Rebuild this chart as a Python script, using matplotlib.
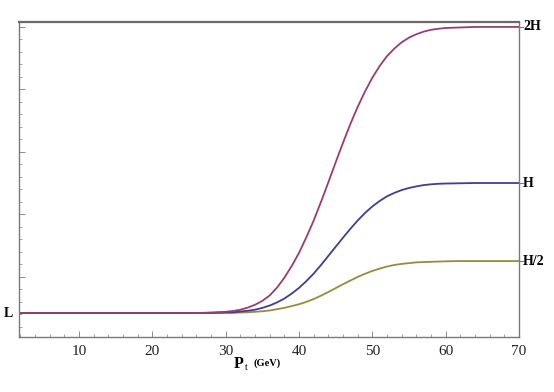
import matplotlib
matplotlib.use("Agg")
import matplotlib.pyplot as plt
from matplotlib.ticker import MultipleLocator, NullFormatter

# --- values (y: L=1, H/2=3, H=6, 2H=12) ---
pt = [2, 20, 26, 28, 30, 31, 32, 33, 34, 35, 36, 37, 38, 39, 40, 41, 42, 43, 44,
      45, 46, 47, 48, 49, 50, 51, 52, 53, 54, 55, 56, 57, 58, 59, 60, 62, 64, 66, 70]

y_2h = [1.0, 1.0, 1.0, 1.02, 1.05, 1.08, 1.13, 1.21, 1.32, 1.47, 1.68, 1.98, 2.36, 2.81,
        3.32, 3.92, 4.56, 5.28, 6.03, 6.8, 7.55, 8.27, 8.93, 9.52, 10.05, 10.5, 10.88,
        11.17, 11.41, 11.59, 11.72, 11.82, 11.89, 11.93, 11.96, 11.98, 12.0, 12.0, 12.0]

y_h = [1.0, 1.0, 1.0, 1.01, 1.02, 1.03, 1.06, 1.09, 1.13, 1.2, 1.29, 1.41, 1.56, 1.75,
       1.97, 2.23, 2.52, 2.85, 3.2, 3.55, 3.9, 4.24, 4.56, 4.85, 5.1, 5.31, 5.49, 5.62,
       5.73, 5.81, 5.87, 5.92, 5.95, 5.97, 5.98, 5.99, 6.0, 6.0, 6.0]

y_h2 = [1.0, 1.0, 1.0, 1.0, 1.01, 1.01, 1.02, 1.03, 1.05, 1.07, 1.1, 1.15, 1.2, 1.27,
        1.34, 1.43, 1.54, 1.67, 1.81, 1.96, 2.11, 2.25, 2.39, 2.51, 2.62, 2.71, 2.79,
        2.85, 2.89, 2.92, 2.95, 2.96, 2.97, 2.98, 2.99, 3.0, 3.0, 3.0, 3.0]

level_names = ["L", "H/2", "H", "2H"]
level_values = [1, 3, 6, 12]

x_ticks = [10, 20, 30, 40, 50, 60, 70]

COL_2H = "#993d71"
COL_H = "#3f3d99"
COL_H2 = "#998a3d"
FRAME = "#7a7a7a"
SERIF = ["Liberation Serif", "DejaVu Serif"]

fig = plt.figure(figsize=(5.54, 3.92), dpi=100)
ax = fig.add_axes([19 / 554, 1 - 337 / 392, 500 / 554, 315 / 392])

ax.plot(pt, y_h2, color=COL_H2, lw=1.3)
ax.plot(pt, y_h, color=COL_H, lw=1.3)
ax.plot(pt, y_2h, color=COL_2H, lw=1.3)

ax.set_xlim(1.8, 70)
ax.set_ylim(0.08, 12.19)

for side, sp in ax.spines.items():
    sp.set_color(FRAME)
    sp.set_linewidth(1.0)
ax.spines["top"].set_linewidth(1.6)
ax.spines["top"].set_color("#6a6a6a")

# x axis: inward ticks, serif labels
ax.set_xticks(x_ticks)
ax.xaxis.set_minor_locator(MultipleLocator(2))
ax.tick_params(axis="x", which="major", direction="in", length=4, width=0.6,
               color=FRAME, labelsize=11, pad=6)
ax.tick_params(axis="x", which="minor", direction="in", length=2, width=0.5, color=FRAME)
for lab in ax.get_xticklabels():
    lab.set_family(SERIF)
    lab.set_color("#222222")

# y axis: unlabeled inward ticks on the left frame
ax.yaxis.set_major_locator(MultipleLocator(2.4))
ax.yaxis.set_minor_locator(MultipleLocator(0.48))
ax.yaxis.set_major_formatter(NullFormatter())
ax.tick_params(axis="y", which="major", direction="in", length=4, width=0.6, color=FRAME)
ax.tick_params(axis="y", which="minor", direction="in", length=2, width=0.5, color=FRAME)

# level labels: L on the left, the others on the right
for name, val in zip(level_names, level_values):
    if name == "L":
        ax.text(-0.012, val, name, transform=ax.get_yaxis_transform(), ha="right",
                va="center", family=SERIF, fontweight="bold", fontsize=10)
    else:
        ax.plot([1.0, 1.008], [val, val], transform=ax.get_yaxis_transform(),
                color=FRAME, lw=0.8, clip_on=False)
        ax.text(1.008, val, name, transform=ax.get_yaxis_transform(), ha="left",
                va="center", family=SERIF, fontweight="bold", fontsize=10)

# axis title P_t (GeV)
fig.text(234 / 554, 1 - 364 / 392, "P", family=SERIF, fontweight="bold",
         fontsize=11.5, ha="left", va="center")
fig.text(245 / 554, 1 - 367 / 392, "t", family=SERIF, fontsize=7,
         ha="left", va="center")
fig.text(253 / 554, 1 - 363 / 392, "(GeV)", family=SERIF, fontweight="bold",
         fontsize=7.5, ha="left", va="center")

fig.savefig("out.png", dpi=100)
